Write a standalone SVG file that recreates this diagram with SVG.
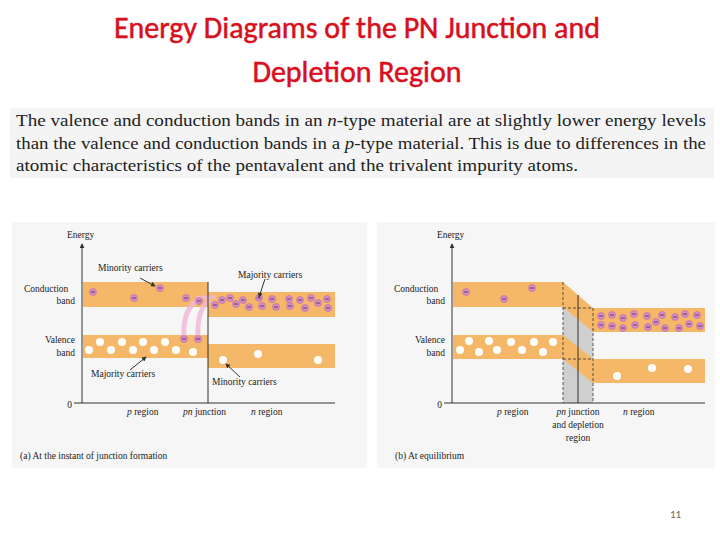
<svg xmlns="http://www.w3.org/2000/svg" width="720" height="540" viewBox="0 0 720 540">
<style>
.t{font-family:"Liberation Serif",serif;fill:#222}
.s{font-size:9.5px}
.band{fill:#f5b868}
.e{fill:#d98ac8;stroke:#b060a0;stroke-width:0.5}
.h{fill:#fff}
.ax{stroke:#333;stroke-width:1;fill:none}
.d{stroke:#333;stroke-width:0.8;stroke-dasharray:3,2;fill:none}
</style>
<defs>
<marker id="ar" viewBox="0 0 6 6" refX="5" refY="3" markerWidth="5" markerHeight="5" orient="auto"><path d="M0,0L6,3L0,6z" fill="#333"/></marker>
<g id="el"><circle r="3.5" class="e"/><line x1="-2" x2="2" stroke="#333" stroke-width="0.8"/></g>
</defs>
<rect width="720" height="540" fill="#fff"/>
<text x="357" y="38" text-anchor="middle" font-family="Carlito,'Liberation Sans',sans-serif" font-size="30" stroke="#d8101e" stroke-width="0.5" fill="#d8101e">Energy Diagrams of the PN Junction and</text>
<text x="357" y="82" text-anchor="middle" font-family="Carlito,'Liberation Sans',sans-serif" font-size="30" stroke="#d8101e" stroke-width="0.5" fill="#d8101e">Depletion Region</text>
<rect x="10" y="108" width="704" height="70" fill="#f4f4f4"/>
<g class="t" font-size="17.5">
<text x="16" y="126" textLength="690" lengthAdjust="spacingAndGlyphs">The valence and conduction bands in an <tspan font-style="italic">n</tspan>-type material are at slightly lower energy levels</text>
<text x="16" y="149" textLength="690" lengthAdjust="spacingAndGlyphs">than the valence and conduction bands in a <tspan font-style="italic">p</tspan>-type material. This is due to differences in the</text>
<text x="16" y="171" textLength="562" lengthAdjust="spacingAndGlyphs">atomic characteristics of the pentavalent and the trivalent impurity atoms.</text>
</g>
<rect x="12" y="222" width="355" height="246" fill="#f6f6f6"/>
<rect x="377" y="222" width="338" height="246" fill="#f6f6f6"/>

<g id="panelA">
<rect class="band" x="83" y="282" width="125" height="25"/>
<rect class="band" x="208" y="292" width="127" height="25"/>
<rect class="band" x="83" y="335" width="125" height="23"/>
<rect class="band" x="208" y="344" width="127" height="24"/>
<path d="M184,337 C183,318 188,306 198,300 M198,337 C197,318 201,306 210,300" stroke="#f0b8d8" stroke-width="5" fill="none" opacity="0.8"/>
<path d="M196,298 L216,297" stroke="#f0b8d8" stroke-width="4" opacity="0.8"/>
<g>
<use href="#el" x="93" y="292"/><use href="#el" x="134" y="298"/><use href="#el" x="160" y="288"/><use href="#el" x="186" y="298"/><use href="#el" x="199" y="301"/>
<use href="#el" x="184" y="339"/><use href="#el" x="198" y="339"/>
<use href="#el" x="215" y="305"/><use href="#el" x="222" y="300"/><use href="#el" x="230" y="298"/><use href="#el" x="236" y="304"/><use href="#el" x="243" y="300"/><use href="#el" x="249" y="307"/><use href="#el" x="259" y="298"/><use href="#el" x="262" y="306"/><use href="#el" x="272" y="299"/><use href="#el" x="276" y="307"/><use href="#el" x="289" y="299"/><use href="#el" x="290" y="306"/><use href="#el" x="300" y="300"/><use href="#el" x="305" y="308"/><use href="#el" x="311" y="298"/><use href="#el" x="318" y="303"/><use href="#el" x="327" y="299"/><use href="#el" x="328" y="308"/>
</g>
<g class="h">
<circle cx="89" cy="350" r="4"/><circle cx="100" cy="342" r="4"/><circle cx="111" cy="350" r="4"/><circle cx="122" cy="342" r="4"/><circle cx="133" cy="350" r="4"/><circle cx="143" cy="342" r="4"/><circle cx="154" cy="350" r="4"/><circle cx="165" cy="342" r="4"/><circle cx="176" cy="350" r="4"/><circle cx="193" cy="352" r="4"/>
<circle cx="223" cy="360" r="4"/><circle cx="258" cy="354" r="4"/><circle cx="318" cy="360" r="4"/>
</g>
<line class="ax" x1="208" y1="282" x2="208" y2="403"/>
<line class="ax" x1="82" y1="403" x2="82" y2="244" marker-end="url(#ar)"/>
<line class="ax" x1="74" y1="403" x2="335" y2="403"/>
<line class="ax" x1="140" y1="278" x2="155" y2="286" marker-end="url(#ar)"/>
<line class="ax" x1="265" y1="279" x2="259" y2="297" marker-end="url(#ar)"/>
<line class="ax" x1="130" y1="370" x2="146" y2="357" marker-end="url(#ar)"/>
<line class="ax" x1="240" y1="377" x2="226" y2="364" marker-end="url(#ar)"/>
<g class="t s">
<text x="67" y="238">Energy</text>
<text x="98" y="271">Minority carriers</text>
<text x="238" y="278">Majority carriers</text>
<text x="24" y="292">Conduction</text><text x="75" y="304" text-anchor="end">band</text>
<text x="75" y="343" text-anchor="end">Valence</text><text x="75" y="356" text-anchor="end">band</text>
<text x="91" y="377">Majority carriers</text>
<text x="212" y="385">Minority carriers</text>
<text x="72" y="408" text-anchor="end">0</text>
<text x="127" y="415"><tspan font-style="italic">p</tspan> region</text>
<text x="183" y="415"><tspan font-style="italic">pn</tspan> junction</text>
<text x="251" y="415"><tspan font-style="italic">n</tspan> region</text>
<text x="20" y="459">(a) At the instant of junction formation</text>
</g>
</g>

<g id="panelB">
<rect x="563" y="307" width="30" height="96" fill="#cfcfcf"/>
<path class="band" d="M453,282 H563 L593,308 H705 V332 H593 L563,307 H453 Z"/>
<path class="band" d="M453,335 H563 L593,359 H705 V383 H593 L563,359 H453 Z"/>
<g>
<use href="#el" x="466" y="292"/><use href="#el" x="504" y="299"/><use href="#el" x="532" y="288"/>
<use href="#el" x="601" y="316"/><use href="#el" x="612" y="315"/><use href="#el" x="623" y="318"/><use href="#el" x="634" y="314"/><use href="#el" x="647" y="316"/><use href="#el" x="662" y="315"/><use href="#el" x="675" y="317"/><use href="#el" x="685" y="314"/><use href="#el" x="697" y="315"/>
<use href="#el" x="601" y="325"/><use href="#el" x="612" y="326"/><use href="#el" x="623" y="328"/><use href="#el" x="635" y="325"/><use href="#el" x="648" y="327"/><use href="#el" x="656" y="322"/><use href="#el" x="665" y="328"/><use href="#el" x="679" y="328"/><use href="#el" x="689" y="324"/><use href="#el" x="700" y="326"/>
</g>
<g class="h">
<circle cx="460" cy="350" r="4"/><circle cx="469" cy="341" r="4"/><circle cx="479" cy="352" r="4"/><circle cx="489" cy="341" r="4"/><circle cx="497" cy="350" r="4"/><circle cx="511" cy="342" r="4"/><circle cx="522" cy="350" r="4"/><circle cx="534" cy="342" r="4"/><circle cx="543" cy="352" r="4"/><circle cx="553" cy="342" r="4"/>
<circle cx="617" cy="376" r="4"/><circle cx="652" cy="368" r="4"/><circle cx="688" cy="369" r="4"/>
</g>
<line class="d" x1="563" y1="282" x2="563" y2="403"/>
<line class="d" x1="593" y1="308" x2="593" y2="403"/>
<line class="d" x1="563" y1="308" x2="593" y2="308"/>
<line class="d" x1="563" y1="359" x2="593" y2="359"/>
<line class="ax" x1="578" y1="295" x2="578" y2="403"/>
<line class="ax" x1="452" y1="403" x2="452" y2="244" marker-end="url(#ar)"/>
<line class="ax" x1="444" y1="403" x2="705" y2="403"/>
<g class="t s">
<text x="437" y="238">Energy</text>
<text x="394" y="292">Conduction</text><text x="445" y="304" text-anchor="end">band</text>
<text x="445" y="343" text-anchor="end">Valence</text><text x="445" y="356" text-anchor="end">band</text>
<text x="442" y="408" text-anchor="end">0</text>
<text x="497" y="415"><tspan font-style="italic">p</tspan> region</text>
<text x="578" y="415" text-anchor="middle"><tspan font-style="italic">pn</tspan> junction</text>
<text x="578" y="428" text-anchor="middle">and depletion</text>
<text x="578" y="441" text-anchor="middle">region</text>
<text x="623" y="415"><tspan font-style="italic">n</tspan> region</text>
<text x="395" y="459">(b) At equilibrium</text>
</g>
</g>
<text x="670" y="518" font-family="Carlito,'Liberation Sans',sans-serif" font-size="11" fill="#666">11</text>
</svg>
